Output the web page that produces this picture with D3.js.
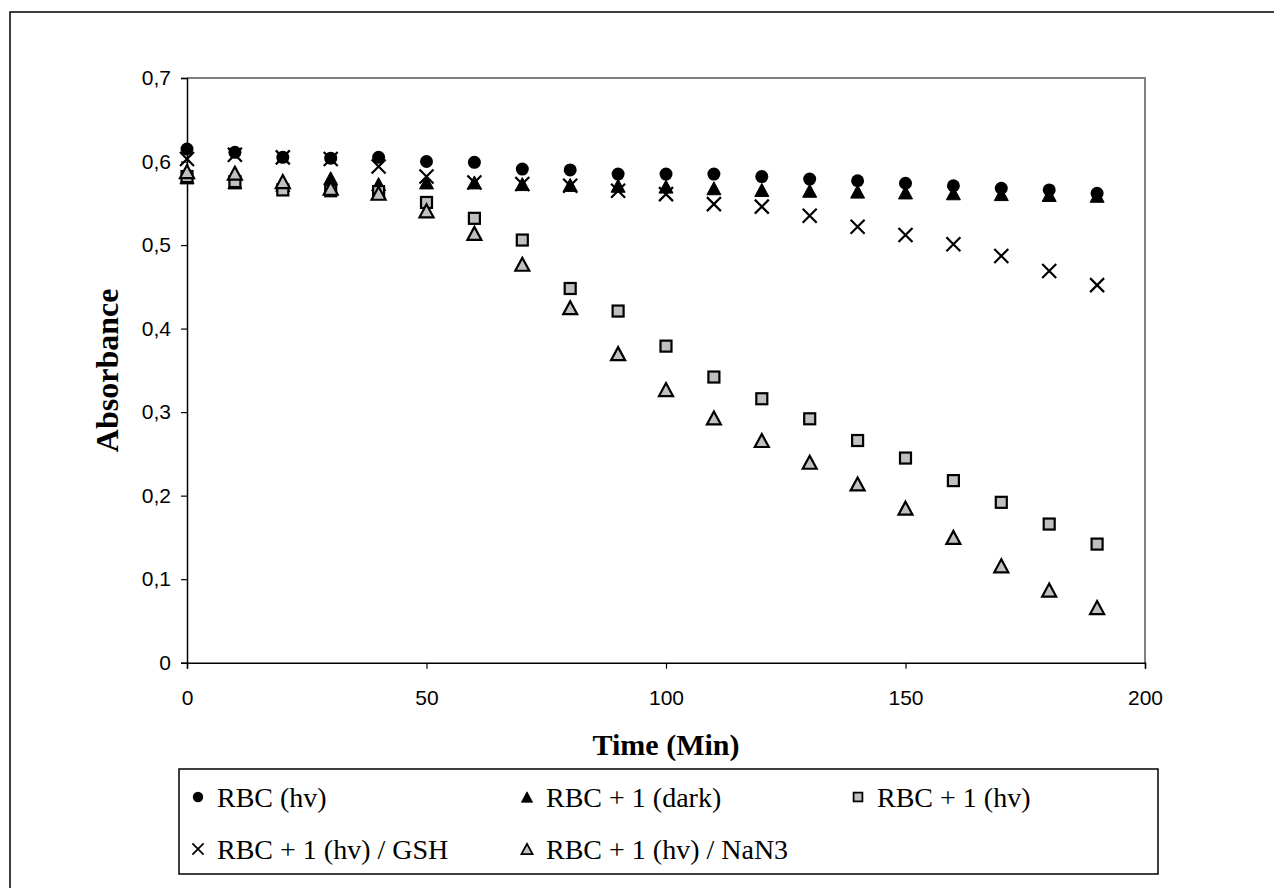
<!DOCTYPE html>
<html>
<head>
<meta charset="utf-8">
<script src="https://cdn.jsdelivr.net/npm/d3@7"></script>
<style>
  body { margin: 0; background: #fff; }
  svg { display: block; }
</style>
</head>
<body>
<div class="chart"></div>
<script>
'use strict';

// Data
const times = [0, 10, 20, 30, 40, 50, 60, 70, 80, 90, 100, 110, 120, 130, 140, 150, 160, 170, 180, 190];
const rbcHv = [0.615, 0.611, 0.605, 0.604, 0.605, 0.600, 0.599, 0.591, 0.590, 0.585, 0.585, 0.585, 0.582, 0.579, 0.577, 0.574, 0.571, 0.568, 0.566, 0.562];
const rbcDark = [0.581, 0.575, 0.572, 0.580, 0.573, 0.575, 0.575, 0.573, 0.572, 0.571, 0.570, 0.568, 0.566, 0.565, 0.564, 0.563, 0.562, 0.561, 0.560, 0.559];
const rbcOneHv = [0.582, 0.576, 0.566, 0.565, 0.564, 0.551, 0.532, 0.506, 0.448, 0.421, 0.379, 0.342, 0.316, 0.292, 0.266, 0.245, 0.218, 0.192, 0.166, 0.142];
const rbcGsh = [0.603, 0.608, 0.605, 0.603, 0.594, 0.582, 0.575, 0.573, 0.571, 0.565, 0.561, 0.549, 0.546, 0.535, 0.522, 0.512, 0.501, 0.487, 0.469, 0.452];
const rbcNaN3 = [0.588, 0.586, 0.576, 0.568, 0.562, 0.541, 0.514, 0.477, 0.425, 0.370, 0.327, 0.293, 0.266, 0.240, 0.214, 0.185, 0.150, 0.116, 0.087, 0.066];
const xTicks = [0, 50, 100, 150, 200];
const yTicks = [0, 0.1, 0.2, 0.3, 0.4, 0.5, 0.6, 0.7];
const seriesNames = ["RBC (hv)", "RBC + 1 (dark)", "RBC + 1 (hv)", "RBC + 1 (hv) / GSH", "RBC + 1 (hv) / NaN3"];

const series = [
  {name: seriesNames[0], values: rbcHv, shape: "circle"},
  {name: seriesNames[1], values: rbcDark, shape: "triBlack"},
  {name: seriesNames[2], values: rbcOneHv, shape: "square"},
  {name: seriesNames[3], values: rbcGsh, shape: "cross"},
  {name: seriesNames[4], values: rbcNaN3, shape: "triGrey"}
];

const W = 1274, H = 888;
const plot = {left: 187, right: 1145, top: 78, bottom: 662.7};

const svg = d3.select(".chart")
  .append("svg")
  .attr("width", W)
  .attr("height", H);

svg.append("rect").attr("width", W).attr("height", H).attr("fill", "#fff");

// outer chart frame (only top and left edges fall inside the picture)
svg.append("rect")
  .attr("x", 10).attr("y", 12)
  .attr("width", W + 20).attr("height", H + 20)
  .attr("fill", "none")
  .attr("stroke", "#000")
  .attr("stroke-width", 1.5);

const x = d3.scaleLinear().domain([0, 200]).range([plot.left, plot.right]);
const y = d3.scaleLinear().domain([0, 0.7]).range([plot.bottom, plot.top]);

// plot frame: grey top and right
svg.append("path")
  .attr("d", `M${plot.left},${plot.top}H${plot.right}V${plot.bottom}`)
  .attr("fill", "none")
  .attr("stroke", "#808080")
  .attr("stroke-width", 2);

// axes
const fmt = d => d === 0 ? "0" : d3.format(".1f")(d).replace(".", ",");

const yAxis = svg.append("g")
  .attr("transform", `translate(${plot.left},0)`)
  .call(d3.axisLeft(y).tickValues(yTicks).tickFormat(fmt).tickSize(6).tickPadding(10));
const xAxis = svg.append("g")
  .attr("transform", `translate(0,${plot.bottom})`)
  .call(d3.axisBottom(x).tickValues(xTicks).tickSize(6).tickPadding(21));

[xAxis, yAxis].forEach(g => {
  g.select(".domain").attr("stroke", "#000").attr("stroke-width", 1.5);
  g.selectAll(".tick line").attr("stroke", "#000").attr("stroke-width", 1.2);
  g.selectAll(".tick text")
    .attr("fill", "#000")
    .style("font-family", "Arial, 'Liberation Sans', sans-serif")
    .style("font-size", "21px");
});

// axis titles
svg.append("text")
  .attr("x", (plot.left + plot.right) / 2)
  .attr("y", 755)
  .attr("text-anchor", "middle")
  .style("font-family", "'Liberation Serif', 'Times New Roman', serif")
  .style("font-weight", "bold")
  .style("font-size", "30px")
  .text("Time (Min)");

svg.append("text")
  .attr("transform", `translate(118,${(plot.top + plot.bottom) / 2}) rotate(-90)`)
  .attr("text-anchor", "middle")
  .style("font-family", "'Liberation Serif', 'Times New Roman', serif")
  .style("font-weight", "bold")
  .style("font-size", "32px")
  .text("Absorbance");

// marker drawing
function drawMarker(g, shape) {
  if (shape === "circle") {
    g.append("circle").attr("r", 6.5).attr("fill", "#000");
  } else if (shape === "triBlack" || shape === "triGrey") {
    g.append("path")
      .attr("d", "M0,-6.5L7,6.5H-7Z")
      .attr("fill", shape === "triBlack" ? "#000" : "#c0c0c0")
      .attr("stroke", "#000")
      .attr("stroke-width", shape === "triBlack" ? 1 : 2.2)
      .attr("stroke-linejoin", "miter");
  } else if (shape === "square") {
    g.append("rect")
      .attr("x", -5.5).attr("y", -5.5)
      .attr("width", 11).attr("height", 11)
      .attr("fill", "#c0c0c0")
      .attr("stroke", "#000")
      .attr("stroke-width", 2.2);
  } else if (shape === "cross") {
    g.append("path")
      .attr("d", "M-7,-7L7,7M-7,7L7,-7")
      .attr("stroke", "#000")
      .attr("stroke-width", 2.2);
  }
}

series.forEach(s => {
  svg.append("g").selectAll("g")
    .data(s.values.map((v, i) => ({t: times[i], v: v})))
    .enter()
    .append("g")
    .attr("transform", d => `translate(${x(d.t)},${y(d.v)})`)
    .each(function() { drawMarker(d3.select(this), s.shape); });
});

// legend
const legendBox = {x: 179, y: 769, w: 979, h: 105};
svg.append("rect")
  .attr("x", legendBox.x).attr("y", legendBox.y)
  .attr("width", legendBox.w).attr("height", legendBox.h)
  .attr("fill", "#fff")
  .attr("stroke", "#000")
  .attr("stroke-width", 1.5);

const legendPos = [
  {x: 198, y: 797}, {x: 527, y: 797}, {x: 858, y: 797},
  {x: 198, y: 849}, {x: 527, y: 849}
];
const items = svg.append("g").selectAll("g")
  .data(series)
  .enter()
  .append("g")
  .attr("transform", (d, i) => `translate(${legendPos[i].x},${legendPos[i].y})`);

items.each(function(d) {
  const g = d3.select(this).append("g").attr("transform", "scale(0.8)");
  drawMarker(g, d.shape);
});
items.append("text")
  .attr("x", 19)
  .attr("y", 10)
  .style("font-family", "'Liberation Serif', 'Times New Roman', serif")
  .style("font-size", "28px")
  .text(d => d.name);
</script>
</body>
</html>
